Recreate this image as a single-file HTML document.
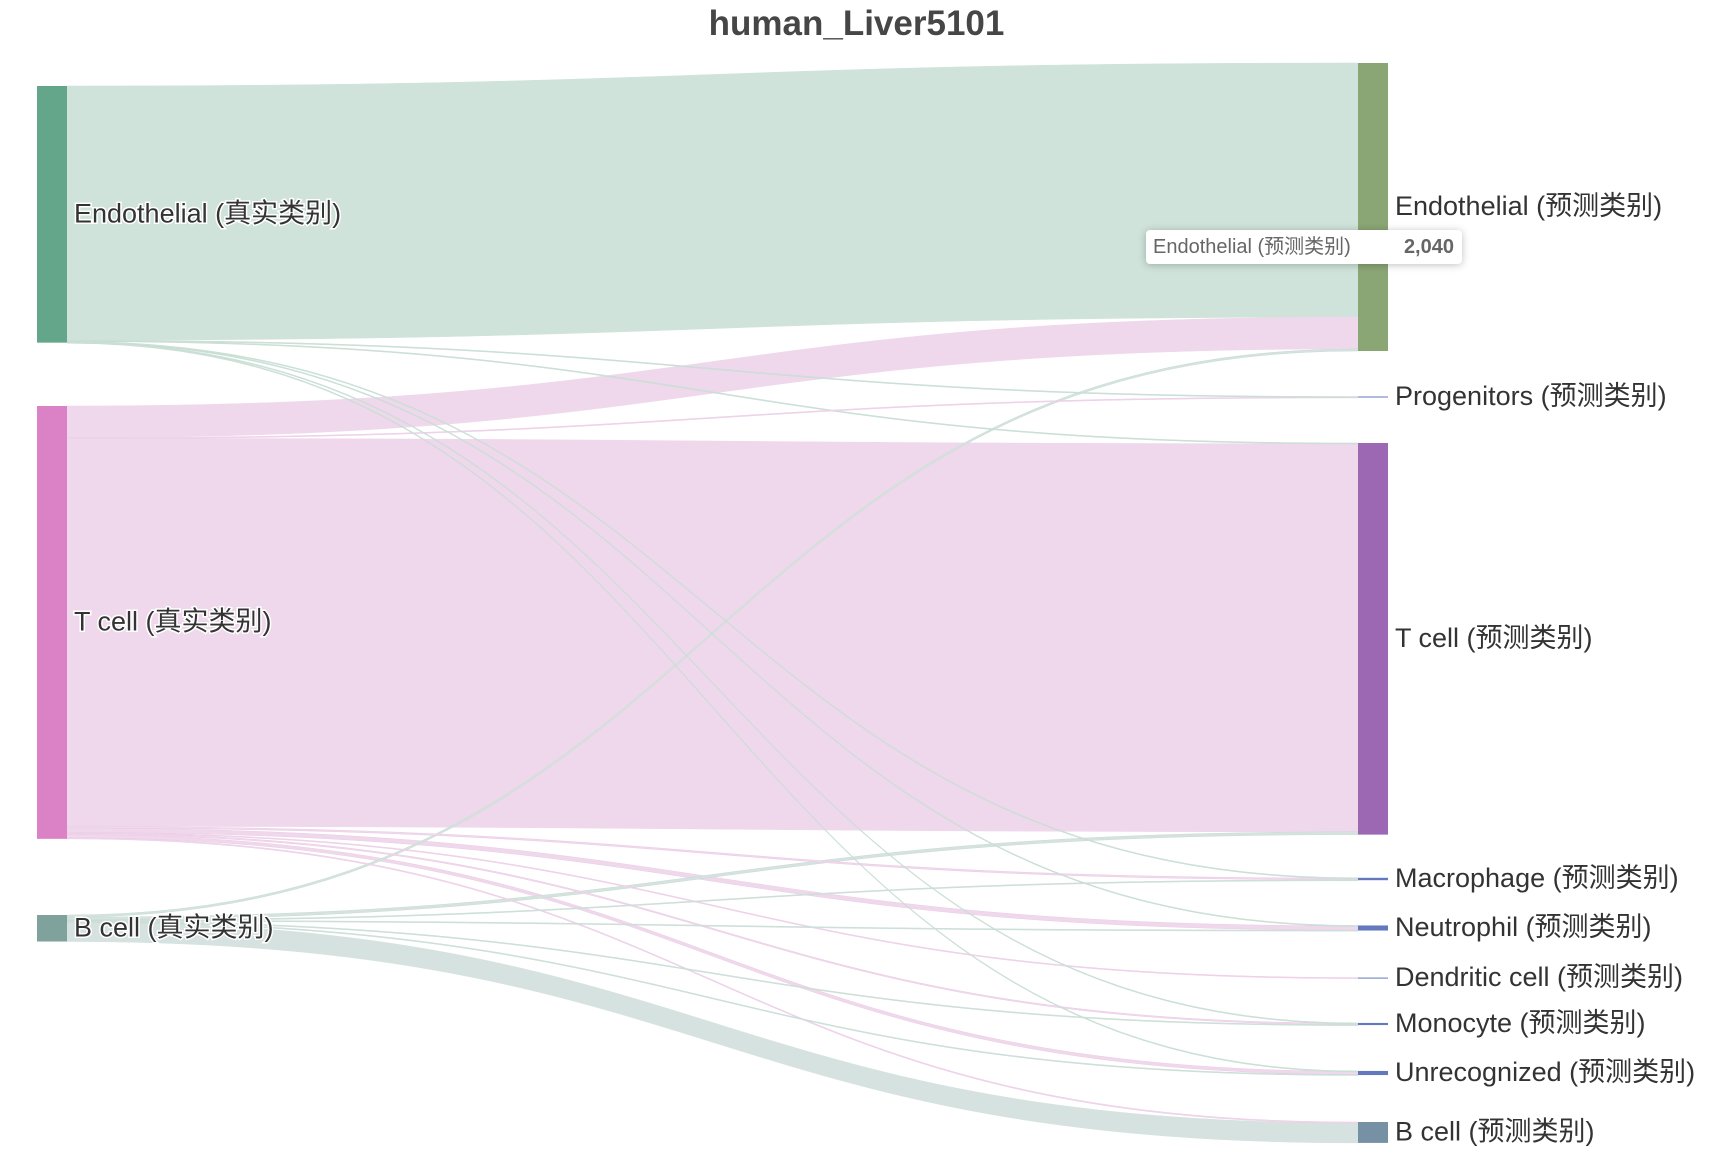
<!DOCTYPE html>
<html><head><meta charset="utf-8">
<style>
html,body{margin:0;padding:0;background:#fff;}
body{width:1713px;height:1168px;overflow:hidden;position:relative;font-family:"Liberation Sans","Noto Sans CJK SC",sans-serif;}
#title{position:absolute;left:0;width:1713px;top:4px;text-align:center;font-size:35px;font-weight:bold;color:#464646;}
#tip{position:absolute;left:1146px;top:230px;height:34px;width:316px;background:#fff;border-radius:4px;box-shadow:0 1px 8px rgba(0,0,0,0.25);font-size:20px;color:#666;line-height:34px;}
#tip .n{position:absolute;left:7px;}
#tip .v{position:absolute;right:8px;font-weight:bold;}
</style></head><body>
<div id="title">human_Liver5101</div>
<svg id="chart" width="1713" height="1168" style="position:absolute;left:0;top:0"></svg>
<div id="tip"><span class="n">Endothelial (预测类别)</span><span class="v">2,040</span></div>
<script>
// ---- data ----
const leftNodes = ["Endothelial (真实类别)","T cell (真实类别)","B cell (真实类别)"];
const rightNodes = ["Endothelial (预测类别)","Progenitors (预测类别)","T cell (预测类别)","Macrophage (预测类别)","Neutrophil (预测类别)","Dendritic cell (预测类别)","Monocyte (预测类别)","Unrecognized (预测类别)","B cell (预测类别)"];
// flows: rows = left (source), columns = right (target)
const flowsEndothelial = [1800,3,5,2,3,0,2,3,0];
const flowsTcell = [225,4,2749,12,30,6,10,22,8];
const flowsBcell = [15,0,20,3,3,0,3,4,140];
const flows = [flowsEndothelial, flowsTcell, flowsBcell];

// ---- layout (styles/positions) ----
const leftColors=["#63a68a","#db82c7","#7fa39c"];
const linkColors=["#cfe3da","#f0d8ec","#d6e2df"];
const rightColors=["#8ba675","#6478be","#9c67b3","#6478be","#6478be","#6478be","#6478be","#6478be","#7591a3"];
const leftTops=[86,406,915];
const rightCenters=[null,397,null,879,928,978,1024,1073,null];
const rightTopsFixed={0:63,2:443,8:1122};
const k=288/2040;
const xL=37,xR=1358,nw=30;
const svg=document.getElementById('chart');
const NS="http://www.w3.org/2000/svg";
function mk(t,a){const e=document.createElementNS(NS,t);for(const key in a)e.setAttribute(key,a[key]);return e;}
const leftTot=flows.map(r=>r.reduce((a,b)=>a+b,0));
const rightTot=rightNodes.map((_,j)=>flows.reduce((s,r)=>s+r[j],0));
const rightTops=rightTot.map((t,j)=>rightTopsFixed[j]!==undefined?rightTopsFixed[j]:rightCenters[j]-t*k/2);
// links
const gL=mk('g',{}); svg.appendChild(gL);
const lOff=leftTops.slice(), rOff=rightTops.slice();
const linkList=[];
for(let i=0;i<flows.length;i++){
  for(let j=0;j<rightNodes.length;j++){
    const v=flows[i][j]; if(!v) continue;
    const h=Math.max(v*k,1);
    const y0=lOff[i], y1=rOff[j]; lOff[i]+=v*k; rOff[j]+=v*k;
    linkList.push({i:i,j:j,v:v,h:h,y0:y0,y1:y1});
  }
}
linkList.sort((a,b)=>b.v-a.v);
linkList.forEach(L=>{
  const x0=xL+nw,x1=xR,xm=(x0+x1)/2,h=L.h,y0=L.y0,y1=L.y1;
  const d=`M${x0},${y0}C${xm},${y0} ${xm},${y1} ${x1},${y1}L${x1},${y1+h}C${xm},${y1+h} ${xm},${y0+h} ${x0},${y0+h}Z`;
  const p=mk('path',{d:d,fill:linkColors[L.i],stroke:linkColors[L.i],'stroke-width':0.5});
  if(L.v<50){p.setAttribute('stroke',L.i===1?'#ecccE6':'#c6dcd3');}
  
  
  gL.appendChild(p);
});
// nodes
function label(x,y,txt,name){
  const t=mk('text',{x:x,y:y,'font-size':27,fill:'#333','dominant-baseline':'middle',stroke:'#fff','stroke-width':3,'paint-order':'stroke','font-family':'"Liberation Sans","Noto Sans CJK SC",sans-serif'});
  t.textContent=txt;
  
  
  svg.appendChild(t);
}
leftNodes.forEach((n,i)=>{
  const h=leftTot[i]*k;
  const r=mk('rect',{x:xL,y:leftTops[i],width:nw,height:h,fill:leftColors[i]});
  
  
  svg.appendChild(r);
});
rightNodes.forEach((n,j)=>{
  const h=Math.max(rightTot[j]*k,1);
  const r=mk('rect',{x:xR,y:rightTops[j],width:nw,height:h,fill:rightColors[j]});
  
  
  svg.appendChild(r);
});
leftNodes.forEach((n,i)=>label(xL+nw+7,leftTops[i]+leftTot[i]*k/2+1,n,'source-label-'+i));
rightNodes.forEach((n,j)=>label(xR+nw+7,rightTops[j]+rightTot[j]*k/2+1,n,'target-label-'+j));
</script>
</body></html>
